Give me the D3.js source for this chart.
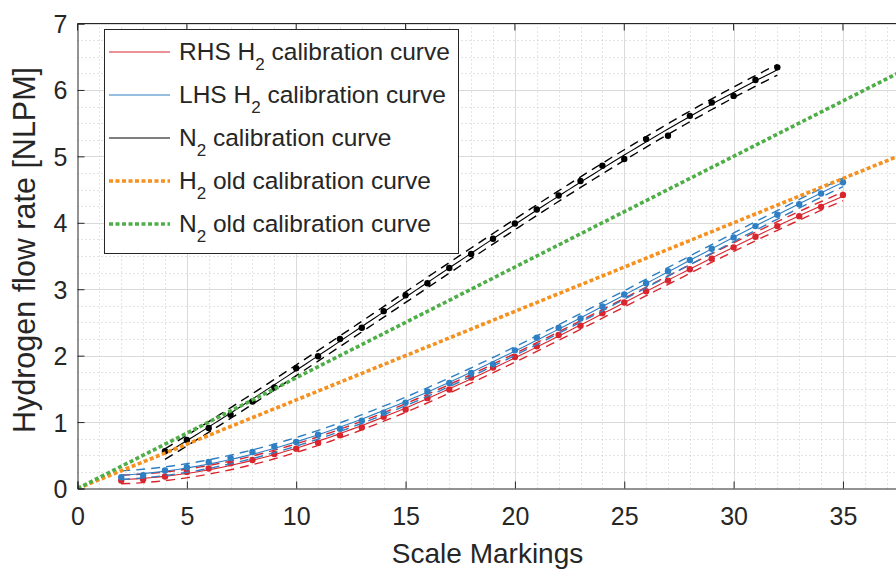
<!DOCTYPE html>
<html><head><meta charset="utf-8">
<script src="https://cdn.jsdelivr.net/npm/d3@7"></script>
<style>
body{margin:0;background:#fff}
svg{display:block}
text{font-family:"Liberation Sans",Arial,Helvetica,sans-serif;fill:#262626}
</style>
</head><body>
<svg id="c" width="896" height="570"></svg>
<script>
// ---------- data ----------
const rhsX = [2,3,4,5,6,7,8,9,10,11,12,13,14,15,16,17,18,19,20,21,22,23,24,25,26,27,28,29,30,31,32,33,34,35];
const rhsY = [0.12,0.14,0.18,0.25,0.30,0.38,0.43,0.52,0.60,0.69,0.80,0.92,1.08,1.19,1.36,1.49,1.67,1.82,1.98,2.14,2.31,2.45,2.64,2.80,2.97,3.13,3.30,3.46,3.63,3.79,3.95,4.10,4.24,4.42];
const lhsX = [2,3,4,5,6,7,8,9,10,11,12,13,14,15,16,17,18,19,20,21,22,23,24,25,26,27,28,29,30,31,32,33,34,35];
const lhsY = [0.17,0.20,0.27,0.32,0.40,0.46,0.55,0.63,0.70,0.81,0.90,1.02,1.14,1.29,1.46,1.59,1.74,1.87,2.08,2.27,2.42,2.56,2.74,2.92,3.09,3.27,3.44,3.61,3.78,3.95,4.12,4.28,4.44,4.61];
const n2X = [4,5,6,7,8,9,10,11,12,13,14,15,16,17,18,19,20,21,22,23,24,25,26,27,28,29,30,31,32];
const n2Y = [0.56,0.73,0.91,1.11,1.31,1.52,1.81,1.99,2.25,2.42,2.67,2.91,3.09,3.32,3.53,3.76,3.99,4.20,4.41,4.63,4.86,4.96,5.26,5.31,5.61,5.81,5.91,6.15,6.34];
const oldH2X = [0, 40];
const oldH2Y = [0, 5.333];
const oldN2X = [0, 40];
const oldN2Y = [0, 6.667];
const boundHalfWidth = [0.065, 0.065, 0.08]; // RHS, LHS, N2 confidence bound half-widths
const xTicks = [0,5,10,15,20,25,30,35];
const yTicks = [0,1,2,3,4,5,6,7];
const legendLabels = [["RHS H","2"," calibration curve"],["LHS H","2"," calibration curve"],["N","2"," calibration curve"],["H","2"," old calibration curve"],["N","2"," old calibration curve"]];

// ---------- layout ----------
const x0 = 77.5, y0 = 488.5, yTop = 23.5;
const xMax = 37.5;
const x = d3.scaleLinear().domain([0,xMax]).range([x0, x0 + xMax*21.87]);
const y = d3.scaleLinear().domain([0,7]).range([y0, yTop]);
const svg = d3.select("#c");
const colors = {red:"#d9262e", blue:"#2e7fc3", black:"#000000", orange:"#f6901e", green:"#4fae47"};
const xR = x(xMax);

svg.append("defs").append("clipPath").attr("id","clip")
  .append("rect").attr("x",x0).attr("y",yTop).attr("width",xR-x0).attr("height",y0-yTop);

// grid minor
const g = svg.append("g");
const minorX = d3.range(1,xMax,1).filter(v=>v%5!==0);
const minorY = d3.range(0,7.01,0.25).filter(v=>Math.abs(v-Math.round(v))>1e-6);
g.selectAll(".mx").data(minorX).join("line")
  .attr("x1",d=>Math.round(x(d))+0.5).attr("x2",d=>Math.round(x(d))+0.5).attr("y1",yTop).attr("y2",y0)
  .attr("stroke","#c8c8c8").attr("stroke-width",1).attr("stroke-dasharray","1,3");
g.selectAll(".my").data(minorY).join("line")
  .attr("y1",d=>Math.round(y(d))+0.5).attr("y2",d=>Math.round(y(d))+0.5).attr("x1",x0).attr("x2",xR)
  .attr("stroke","#c8c8c8").attr("stroke-width",1).attr("stroke-dasharray","1,3");
// grid major
g.selectAll(".Mx").data(xTicks.slice(1)).join("line")
  .attr("x1",d=>Math.round(x(d))+0.5).attr("x2",d=>Math.round(x(d))+0.5).attr("y1",yTop).attr("y2",y0)
  .attr("stroke","#dadada").attr("stroke-width",1);
g.selectAll(".My").data(yTicks.slice(1)).join("line")
  .attr("y1",d=>Math.round(y(d))+0.5).attr("y2",d=>Math.round(y(d))+0.5).attr("x1",x0).attr("x2",xR)
  .attr("stroke","#dadada").attr("stroke-width",1);

// cubic least-squares fit of the read data
function polyFit(xs, ys, deg){
  const n = deg+1;
  const A = Array.from({length:n},()=>new Array(n+1).fill(0));
  xs.forEach((xv,i)=>{
    for(let r=0;r<n;r++){ for(let c=0;c<n;c++) A[r][c]+=Math.pow(xv,r+c); A[r][n]+=Math.pow(xv,r)*ys[i]; }
  });
  for(let i=0;i<n;i++){ for(let j=i+1;j<n;j++){ const f=A[j][i]/A[i][i]; for(let k=i;k<=n;k++) A[j][k]-=f*A[i][k]; } }
  const c=new Array(n).fill(0);
  for(let i=n-1;i>=0;i--){ let s=A[i][n]; for(let k=i+1;k<n;k++) s-=A[i][k]*c[k]; c[i]=s/A[i][i]; }
  return v=>c.reduce((acc,ci,k)=>acc+ci*Math.pow(v,k),0);
}

const plot = svg.append("g").attr("clip-path","url(#clip)");
const line = d3.line().x(d=>x(d[0])).y(d=>y(d[1]));
const series = [
  {xs:rhsX, ys:rhsY, c:colors.red, hw:boundHalfWidth[0]},
  {xs:lhsX, ys:lhsY, c:colors.blue, hw:boundHalfWidth[1]},
  {xs:n2X, ys:n2Y, c:colors.black, hw:boundHalfWidth[2]}
];
series.forEach(s=>{
  const f = polyFit(s.xs, s.ys, 3);
  const lo = d3.min(s.xs), hi = d3.max(s.xs);
  const fx = d3.range(lo, hi+0.001, (hi-lo)/100);
  plot.append("path").attr("d", line(fx.map(v=>[v,f(v)+s.hw]))).attr("fill","none")
    .attr("stroke",s.c).attr("stroke-width",1.4).attr("stroke-dasharray","9,6");
  plot.append("path").attr("d", line(fx.map(v=>[v,f(v)-s.hw]))).attr("fill","none")
    .attr("stroke",s.c).attr("stroke-width",1.4).attr("stroke-dasharray","9,6");
  plot.append("path").attr("d", line(fx.map(v=>[v,f(v)]))).attr("fill","none")
    .attr("stroke",s.c).attr("stroke-width",1.1);
  plot.selectAll(null).data(s.xs.map((v,i)=>[v,s.ys[i]])).join("circle")
    .attr("cx",d=>x(d[0])).attr("cy",d=>y(d[1])).attr("r",3.2).attr("fill",s.c);
});
// old calibration curves
plot.append("path").attr("d", line(oldH2X.map((v,i)=>[v,oldH2Y[i]]))).attr("fill","none")
  .attr("stroke",colors.orange).attr("stroke-width",3.6).attr("stroke-dasharray","4,2.5");
plot.append("path").attr("d", line(oldN2X.map((v,i)=>[v,oldN2Y[i]]))).attr("fill","none")
  .attr("stroke",colors.green).attr("stroke-width",3.6).attr("stroke-dasharray","4,2.5");

// axes
const axCol = "#262626";
const xAxis = d3.axisBottom(x).tickValues(xTicks).tickSize(-7).tickPadding(19).tickFormat(d3.format("d"));
const yAxis = d3.axisLeft(y).tickValues(yTicks).tickSize(-7).tickPadding(10).tickFormat(d3.format("d"));
const gx = svg.append("g").attr("transform",`translate(0,${y0})`).call(xAxis);
const gy = svg.append("g").attr("transform",`translate(${x0},0)`).call(yAxis);
[gx,gy].forEach(a=>{
  a.select(".domain").attr("stroke",axCol).attr("stroke-width",1);
  a.selectAll(".tick line").attr("stroke",axCol);
  a.selectAll(".tick text").attr("fill",axCol).style("font-size","25px").style("font-family","'Liberation Sans',Arial,sans-serif");
});
gy.selectAll(".tick text").attr("dy","0.36em");
// top box line + ticks
svg.append("line").attr("x1",x0).attr("x2",xR).attr("y1",yTop).attr("y2",yTop).attr("stroke",axCol);
svg.selectAll(".tt").data(xTicks).join("line").attr("x1",d=>x(d)).attr("x2",d=>x(d))
  .attr("y1",yTop).attr("y2",yTop+7).attr("stroke",axCol);

// axis labels
svg.append("text").attr("x",(x0+xR)/2).attr("y",563).attr("text-anchor","middle")
  .style("font-size","28px").text("Scale Markings");
svg.append("text").attr("transform",`translate(35,250) rotate(-90)`).attr("text-anchor","middle")
  .style("font-size","30.5px").text("Hydrogen flow rate [NLPM]");

// legend
const lg = svg.append("g");
lg.append("rect").attr("x",104.5).attr("y",29.5).attr("width",354).attr("height",224)
  .attr("fill","#fff").attr("stroke",axCol).attr("stroke-width",1);
const legStyles = [
  {c:colors.red, w:1.1, da:null},
  {c:colors.blue, w:1.1, da:null},
  {c:colors.black, w:1.1, da:null},
  {c:colors.orange, w:3.6, da:"4,2.5"},
  {c:colors.green, w:3.6, da:"4,2.5"}
];
legendLabels.forEach((lab,i)=>{
  const cy = 52 + i*43;
  const st = legStyles[i];
  const ln = lg.append("line").attr("x1",109).attr("x2",170).attr("y1",cy).attr("y2",cy)
    .attr("stroke",st.c).attr("stroke-width",st.w);
  if(st.da) ln.attr("stroke-dasharray",st.da);
  const t = lg.append("text").attr("x",179).attr("y",cy+8).style("font-size","24.5px");
  t.append("tspan").text(lab[0]);
  t.append("tspan").attr("dy",10).style("font-size","17px").text(lab[1]);
  t.append("tspan").attr("dy",-10).text(lab[2]);
});
</script>
</body></html>
